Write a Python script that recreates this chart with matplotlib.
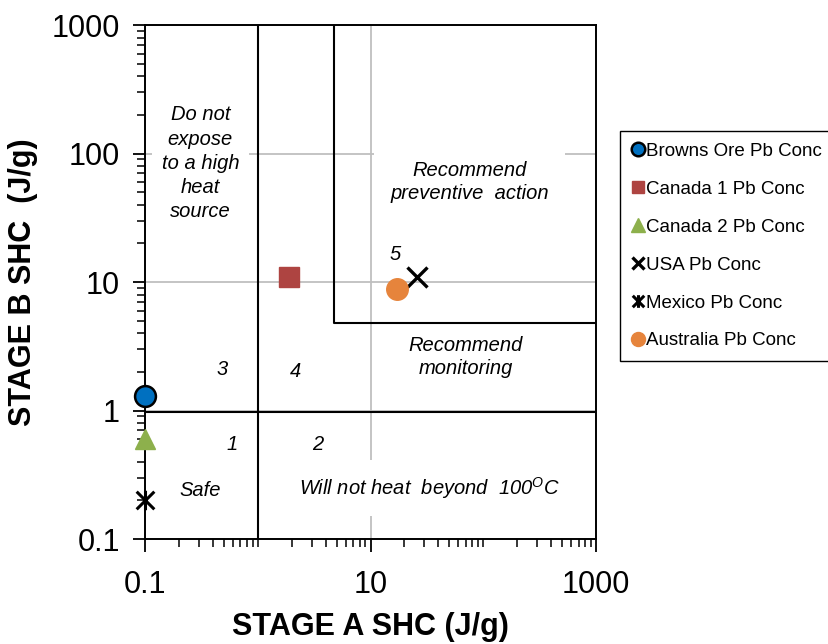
import numpy as np
import matplotlib
matplotlib.use("Agg")
import matplotlib.pyplot as plt
from matplotlib.path import Path
from matplotlib.ticker import LogLocator, NullFormatter, FixedLocator, FuncFormatter

plt.rcParams["font.family"] = ["Liberation Sans", "DejaVu Sans"]
plt.rcParams["mathtext.fontset"] = "custom"
plt.rcParams["mathtext.rm"] = "Liberation Sans"
plt.rcParams["mathtext.it"] = "Liberation Sans:italic"

# muestras: (etapa A, etapa B) en J/g
nombres = ["Browns Ore Pb Conc", "Canada 1 Pb Conc", "Canada 2 Pb Conc",
           "USA Pb Conc", "Mexico Pb Conc", "Australia Pb Conc"]
etapa_a = [0.1, 1.9, 0.1, 26, 0.1, 17]
etapa_b = [1.3, 11, 0.6, 11, 0.2, 8.8]

# limites de zonas
lim_a = 1.0
lim_b = 0.97
zona5_x = [4.75, 4.75, 1000]
zona5_y = [1000, 4.8, 4.8]

x_ticks = [0.1, 10, 1000]
y_ticks = [0.1, 1, 10, 100, 1000]

estrella = Path([(-1, -1), (1, 1), (-1, 1), (1, -1), (0, -1.1), (0, 1.1)],
                [Path.MOVETO, Path.LINETO, Path.MOVETO, Path.LINETO, Path.MOVETO, Path.LINETO])

estilos = [
    dict(marker="o", color="#0070C0", markeredgecolor="black", markeredgewidth=1.8, markersize=15),
    dict(marker="s", color="#AE4441", markeredgecolor="#AE4441", markersize=14),
    dict(marker="^", color="#8DB04C", markeredgecolor="#8DB04C", markersize=15),
    dict(marker="x", color="black", markeredgewidth=2.4, markersize=14),
    dict(marker=estrella, color="black", markeredgewidth=2.2, markersize=14),
    dict(marker="o", color="#E6843C", markeredgecolor="#E6843C", markersize=15.5),
]

fig = plt.figure(figsize=(8.29, 6.44), dpi=100)
ax = fig.add_axes([0.1749, 0.163, 0.5441, 0.798])
ax.set_xscale("log")
ax.set_yscale("log")
ax.set_xlim(0.1, 1000)
ax.set_ylim(0.1, 1000)

ax.xaxis.set_major_locator(FixedLocator(x_ticks))
ax.yaxis.set_major_locator(FixedLocator(y_ticks))
ax.xaxis.set_minor_locator(LogLocator(base=10, subs=np.arange(1, 10), numticks=50))
ax.yaxis.set_minor_locator(LogLocator(base=10, subs=np.arange(2, 10), numticks=50))
ax.xaxis.set_minor_formatter(NullFormatter())
ax.yaxis.set_minor_formatter(NullFormatter())
fmt = FuncFormatter(lambda v, p: f"{v:g}")
ax.xaxis.set_major_formatter(fmt)
ax.yaxis.set_major_formatter(fmt)

ax.grid(True, which="major", color="#BFBFBF", linewidth=1.3, zorder=0)
ax.set_axisbelow(True)
ax.tick_params(which="major", direction="out", length=9, width=1.3, labelsize=22, color="black")
ax.tick_params(axis="x", which="major", pad=13)
ax.tick_params(axis="y", which="major", pad=9)
ax.tick_params(which="minor", direction="out", length=6, width=1.1, color="black")
for s in ax.spines.values():
    s.set_color("black")
    s.set_linewidth(1.4)

# lineas de zonas
ax.plot([lim_a, lim_a], [0.1, 1000], color="black", lw=1.5, zorder=2)
ax.plot([0.1, 950], [lim_b, lim_b], color="black", lw=1.5, zorder=2)
ax.plot(zona5_x, zona5_y, color="black", lw=1.5, zorder=2)

for n, xa, yb, st in zip(nombres, etapa_a, etapa_b, estilos):
    ax.plot([xa], [yb], linestyle="none", label=n, clip_on=False, zorder=5, **st)

caja = lambda p: dict(boxstyle=f"square,pad={p}", facecolor="white", edgecolor="none")
txt = dict(fontsize=14.5, style="italic", ha="center", va="center", zorder=3)
ax.text(0.31, 84, "Do not\nexpose\nto a high\nheat\nsource", linespacing=1.35, bbox=caja(0.5), **txt)
ax.text(76, 60, "Recommend\npreventive  action", linespacing=1.3, bbox=caja(0.8), **txt)
ax.text(70, 2.6, "Recommend\nmonitoring", linespacing=1.3, **txt)
ax.text(33.7, 0.25, r"Will not heat  beyond  100$^{O}$C", bbox=caja(0.75), **txt)
ax.text(0.31, 0.24, "Safe", **txt)
ax.text(0.59, 0.54, "1", **txt)
ax.text(3.4, 0.54, "2", **txt)
ax.text(0.48, 2.1, "3", **txt)
ax.text(2.18, 2.0, "4", **txt)
ax.text(16.5, 16.5, "5", **txt)

ax.set_xlabel("STAGE A SHC (J/g)", fontsize=22, fontweight="bold", labelpad=9)
ax.set_ylabel("STAGE B SHC  (J/g)", fontsize=22, fontweight="bold", labelpad=10)

leg = ax.legend(loc="upper left", bbox_to_anchor=(620 / 829, 1 - 131 / 644),
                bbox_transform=fig.transFigure, fontsize=13.5, frameon=True,
                fancybox=False, edgecolor="black", framealpha=1, markerscale=0.65,
                handlelength=0.65, handletextpad=0.12, labelspacing=1.11,
                borderpad=0.62, borderaxespad=0)
leg.get_frame().set_linewidth(1.0)

fig.savefig("out.png", dpi=100)
